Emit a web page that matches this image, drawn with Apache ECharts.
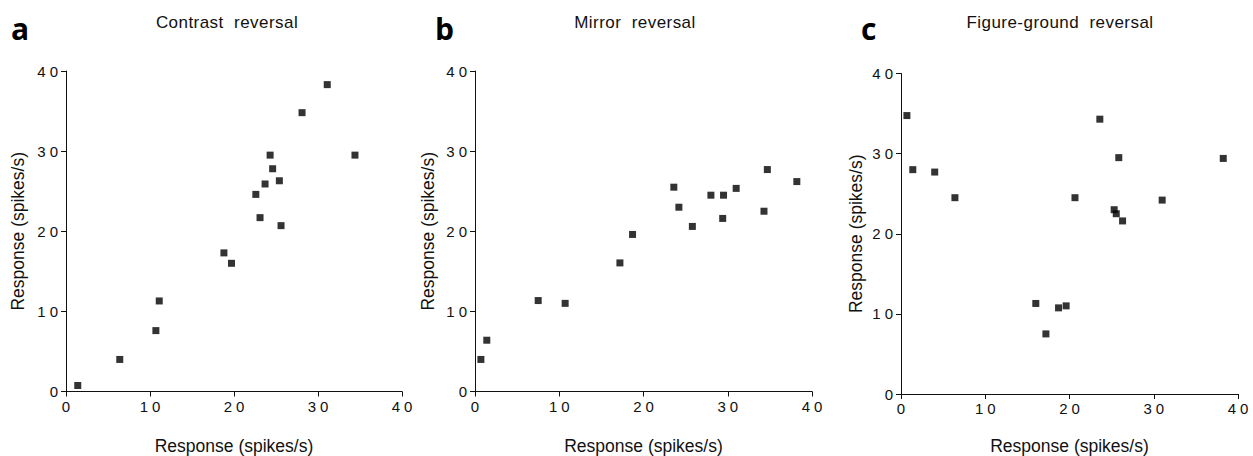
<!DOCTYPE html>
<html><head><meta charset="utf-8">
<script src="https://cdn.jsdelivr.net/npm/echarts@6/dist/echarts.min.js"></script>
<style>
html,body{margin:0;padding:0;background:#fff}
#chart{width:1253px;height:456px}
#chart text{white-space:pre}
#chart text[style*="15px"]{letter-spacing:4px}
#chart text[style*="17px"]{letter-spacing:0.45px}
</style></head><body><div id="chart"></div>
<script>
const panelLetters = ['a', 'b', 'c'];
const panelTitles = ['Contrast  reversal', 'Mirror  reversal', 'Figure-ground  reversal'];
const axisTitle = 'Response (spikes/s)';
const axisMin = 0, axisMax = 40, axisStep = 10;

const xA = [1.4, 6.4, 10.7, 11.1, 18.8, 19.7, 22.6, 23.1, 23.7, 24.3, 24.6, 25.4, 25.6, 28.1, 31.1, 34.4];
const yA = [0.75, 4.0, 7.6, 11.3, 17.3, 16.0, 24.6, 21.7, 25.9, 29.5, 27.8, 26.3, 20.7, 34.8, 38.3, 29.5];

const xB = [0.7, 1.4, 7.5, 10.7, 17.2, 18.7, 23.6, 24.2, 25.8, 28.0, 29.5, 29.4, 31.0, 34.3, 34.7, 38.2];
const yB = [4.0, 6.4, 11.35, 11.0, 16.05, 19.6, 25.5, 23.0, 20.6, 24.5, 24.5, 21.6, 25.35, 22.5, 27.7, 26.2];

const xC = [0.7, 1.4, 4.0, 6.4, 16.0, 17.2, 18.7, 19.6, 20.65, 23.6, 25.3, 25.55, 25.85, 26.3, 31.0, 38.25];
const yC = [34.75, 28.0, 27.7, 24.5, 11.3, 7.5, 10.75, 11.0, 24.5, 34.3, 23.0, 22.5, 29.5, 21.6, 24.2, 29.4];

const panelsX = [xA, xB, xC];
const panelsY = [yA, yB, yC];

const grids = [
  {left: 66, top: 71, width: 336, height: 320.5, outerBoundsMode: 'none', containLabel: false},
  {left: 475, top: 71, width: 337, height: 320.5, outerBoundsMode: 'none', containLabel: false},
  {left: 901, top: 73.5, width: 337, height: 320.5, outerBoundsMode: 'none', containLabel: false}
];
const xNameGaps = [45, 45, 42.5];
const yNameGaps = [39, 38, 36];
const titleCenters = [227, 635, 1060];
const letterLefts = [11, 435, 861];

const FONT = '"Liberation Sans", Arial, sans-serif';
const INK = '#111';

const lineStyle = {color: INK, width: 1};
function makeAxis(i, isX) {
  return {
    type: 'value', gridIndex: i, min: axisMin, max: axisMax, interval: axisStep,
    name: axisTitle, nameLocation: 'middle',
    nameGap: isX ? xNameGaps[i] : yNameGaps[i],
    nameTextStyle: {fontFamily: FONT, fontSize: 17.5, color: INK},
    axisLine: {show: true, onZero: false, lineStyle},
    axisTick: {show: true, length: 5, inside: false, lineStyle},
    axisLabel: isX
      ? {fontFamily: FONT, fontSize: 15, color: INK, margin: 7, padding: [0, 0, 0, 4]}
      : {fontFamily: FONT, fontSize: 15, color: INK, margin: 4},
    splitLine: {show: false}
  };
}

const graphic = [];
for (let i = 0; i < 3; i++) {
  graphic.push({type: 'text', x: titleCenters[i], y: 22,
    style: {text: panelTitles[i], fontFamily: FONT, fontSize: 17, fill: INK, align: 'center', verticalAlign: 'middle'}});
  graphic.push({type: 'text', x: letterLefts[i], y: 28,
    style: {text: panelLetters[i], fontFamily: '"Open Sans", sans-serif', fontWeight: 'bold', fontSize: 30, fill: '#000', align: 'left', verticalAlign: 'middle'}});
}

const option = {
  backgroundColor: '#fff',
  animation: false,
  grid: grids,
  xAxis: [0, 1, 2].map(i => makeAxis(i, true)),
  yAxis: [0, 1, 2].map(i => makeAxis(i, false)),
  graphic: graphic,
  series: [0, 1, 2].map(i => ({
    type: 'scatter', xAxisIndex: i, yAxisIndex: i,
    symbol: 'rect', symbolSize: 7,
    itemStyle: {color: '#000'},
    data: panelsX[i].map((x, k) => [x, panelsY[i][k]])
  }))
};

const chart = echarts.init(document.getElementById('chart'), null, {renderer: 'svg'});
chart.setOption(option);
</script></body></html>
